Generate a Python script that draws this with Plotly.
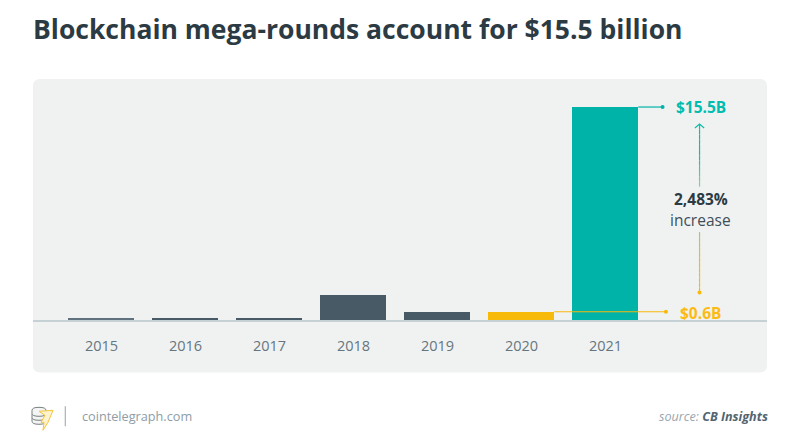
import plotly.graph_objects as go

years = ["2015", "2016", "2017", "2018", "2019", "2020", "2021"]
values = [0.1, 0.18, 0.18, 1.85, 0.6, 0.6, 15.5]
bar_colors = ["#5f727d", "#485a65", "#485a65", "#485a65", "#485a65", "#f7b90a", "#00b3a9"]
title_text = "Blockchain mega-rounds account for $15.5 billion"
high_label = "$15.5B"
low_label = "$0.6B"
change_pct = "2,483%"
change_word = "increase"
site = "cointelegraph.com"

# the page body keeps its 8px margin, so the figure starts at (8, 8)
PAGE = 8
W, H = 800, 445
L, R, T, BASE = 33, 767, 79, 320.5
PANEL_BOTTOM = 373
FONT = "Open Sans"
TEAL, YELLOW, DARK = "#00b3a9", "#f7b90a", "#2c3b43"
Y_MAX = 17.54
X_MIN, X_MAX = -0.815, 7.923
ARROW_X = 7.12
DOT_X_LOW = 6.72
DOT_X_HIGH = 6.68


def px(x):
    return (x - L) / (R - L)


def py(y):
    return (BASE - y) / (BASE - T)


def blend(a, b, t):
    ca = [int(a[i:i + 2], 16) for i in (1, 3, 5)]
    cb = [int(b[i:i + 2], 16) for i in (1, 3, 5)]
    return "rgb(%d,%d,%d)" % tuple(round(p + (q - p) * t) for p, q in zip(ca, cb))


fig = go.Figure()
fig.add_bar(x=list(range(7)), y=values, marker=dict(color=bar_colors, line_width=0), width=66 / 84)

# leader lines from the bar tops to the value labels
for start, end, level, colour in [(5.39, DOT_X_LOW, values[5], YELLOW), (6.39, DOT_X_HIGH, values[6], TEAL)]:
    fig.add_scatter(x=[start, end], y=[level, level], mode="lines",
                    line=dict(color=colour, width=1.2), hoverinfo="skip")
    fig.add_scatter(x=[end], y=[level], mode="markers",
                    marker=dict(color=colour, size=4), hoverinfo="skip")

# gradient arrows between the two labels
N = 12
up_lo, up_hi = 9.7, 14.27
dn_hi, dn_lo = 6.4, 2.0
for i in range(N):
    t0, t1 = i / N, (i + 1) / N
    fig.add_scatter(x=[ARROW_X, ARROW_X], y=[up_lo + (up_hi - up_lo) * t0, up_lo + (up_hi - up_lo) * t1],
                    mode="lines", line=dict(color=blend("#7fd38a", "#12bba9", min(1, t0 * 2.2)), width=1.2),
                    hoverinfo="skip")
    fig.add_scatter(x=[ARROW_X, ARROW_X], y=[dn_hi + (dn_lo - dn_hi) * t0, dn_hi + (dn_lo - dn_hi) * t1],
                    mode="lines", line=dict(color=blend("#a5c96a", YELLOW, min(1, t0 * 2.2)), width=1.2),
                    hoverinfo="skip")
fig.add_scatter(x=[ARROW_X], y=[dn_lo], mode="markers", marker=dict(color=YELLOW, size=4), hoverinfo="skip")
fig.add_scatter(x=[ARROW_X - 0.055, ARROW_X, ARROW_X + 0.055], y=[up_hi - 0.3, up_hi, up_hi - 0.3], mode="lines",
                line=dict(color="#12bba9", width=1.2), hoverinfo="skip")

shapes = []
# rounded panel
r = 7
x0, x1, y0, y1 = px(L), px(R), py(T), py(PANEL_BOTTOM)
rx, ry = r / (R - L), r / (BASE - T)
shapes.append(dict(
    type="path", xref="paper", yref="paper", layer="below", fillcolor="#f0f2f2", line_width=0,
    path=f"M{x0 + rx},{y0} L{x1 - rx},{y0} Q{x1},{y0} {x1},{y0 - ry} L{x1},{y1 + ry} Q{x1},{y1} {x1 - rx},{y1} "
         f"L{x0 + rx},{y1} Q{x0},{y1} {x0},{y1 + ry} L{x0},{y0 - ry} Q{x0},{y0} {x0 + rx},{y0} Z"))
# footer divider
shapes.append(dict(type="line", xref="paper", yref="paper", x0=px(65.3), x1=px(65.3), y0=py(407), y1=py(427),
                   line=dict(color="#a9b1b5", width=1.2)))
# logo coins
for cy in (422, 418, 414):
    shapes.append(dict(type="path", xref="paper", yref="paper", fillcolor="#f4f4f4",
                       line=dict(color="#77817f", width=1),
                       path=f"M{px(32)},{py(cy - 3)} L{px(32)},{py(cy)} Q{px(32)},{py(cy + 3)} {px(39)},{py(cy + 3)} "
                            f"Q{px(46)},{py(cy + 3)} {px(46)},{py(cy)} L{px(46)},{py(cy - 3)} "
                            f"Q{px(46)},{py(cy - 6)} {px(39)},{py(cy - 6)} Q{px(32)},{py(cy - 6)} {px(32)},{py(cy - 3)} Z"))
shapes.append(dict(type="path", xref="paper", yref="paper", fillcolor="#fdf3cf",
                   line=dict(color="#f3c53c", width=1),
                   path=f"M{px(39)},{py(412)} L{px(53)},{py(411)} L{px(48)},{py(423)} L{px(43)},{py(431)} "
                        f"L{px(44)},{py(423)} L{px(41)},{py(423)} L{px(45)},{py(416)} Z"))


def label(text, x, y, size, colour, anchor="center", bold=False, italic=False):
    body = text
    if bold:
        body = f"<b>{body}</b>"
    if italic:
        body = f"<i>{body}</i>"
    return dict(text=body, xref="paper", yref="paper", x=px(x), y=py(y), xanchor=anchor, yanchor="middle",
                showarrow=False, font=dict(family=FONT, size=size, color=colour))


annotations = [
    label(title_text, 31, 29, 26.5, DARK, "left", bold=True),
    label(high_label, 700.5, 107.5, 15.5, "#00bdb0", bold=True),
    label(low_label, 700.5, 313.5, 15.5, "#fbbb12", bold=True),
    label(change_pct, 700.5, 199.5, 15.5, DARK, bold=True),
    label(change_word, 700.5, 220.5, 15.5, "#3f4f58"),
    label(site, 80, 417, 12.7, "#8e9da6", "left"),
    label('source: <b style="color:#52656f">CB Insights</b>', 770, 417, 12.6, "#9aa6ad", "right", italic=True),
]

fig.update_layout(
    width=W - PAGE, height=H - PAGE, autosize=False, showlegend=False, bargap=0,
    margin=dict(l=L - PAGE, r=W - R, t=T - PAGE, b=H - BASE, pad=0),
    paper_bgcolor="white", plot_bgcolor="rgba(0,0,0,0)",
    shapes=shapes, annotations=annotations,
    font=dict(family=FONT),
    xaxis=dict(range=[X_MIN, X_MAX], tickmode="array", tickvals=list(range(7)), ticktext=years,
               showgrid=False, zeroline=False, showline=True, linecolor="#c6d1d5", linewidth=1.5,
               ticks="outside", ticklen=12, tickcolor="rgba(0,0,0,0)",
               tickfont=dict(family=FONT, size=14.5, color="#66767f")),
    yaxis=dict(range=[0, Y_MAX], visible=False, fixedrange=True),
)

fig.write_html("out.html", config=dict(displayModeBar=False))
